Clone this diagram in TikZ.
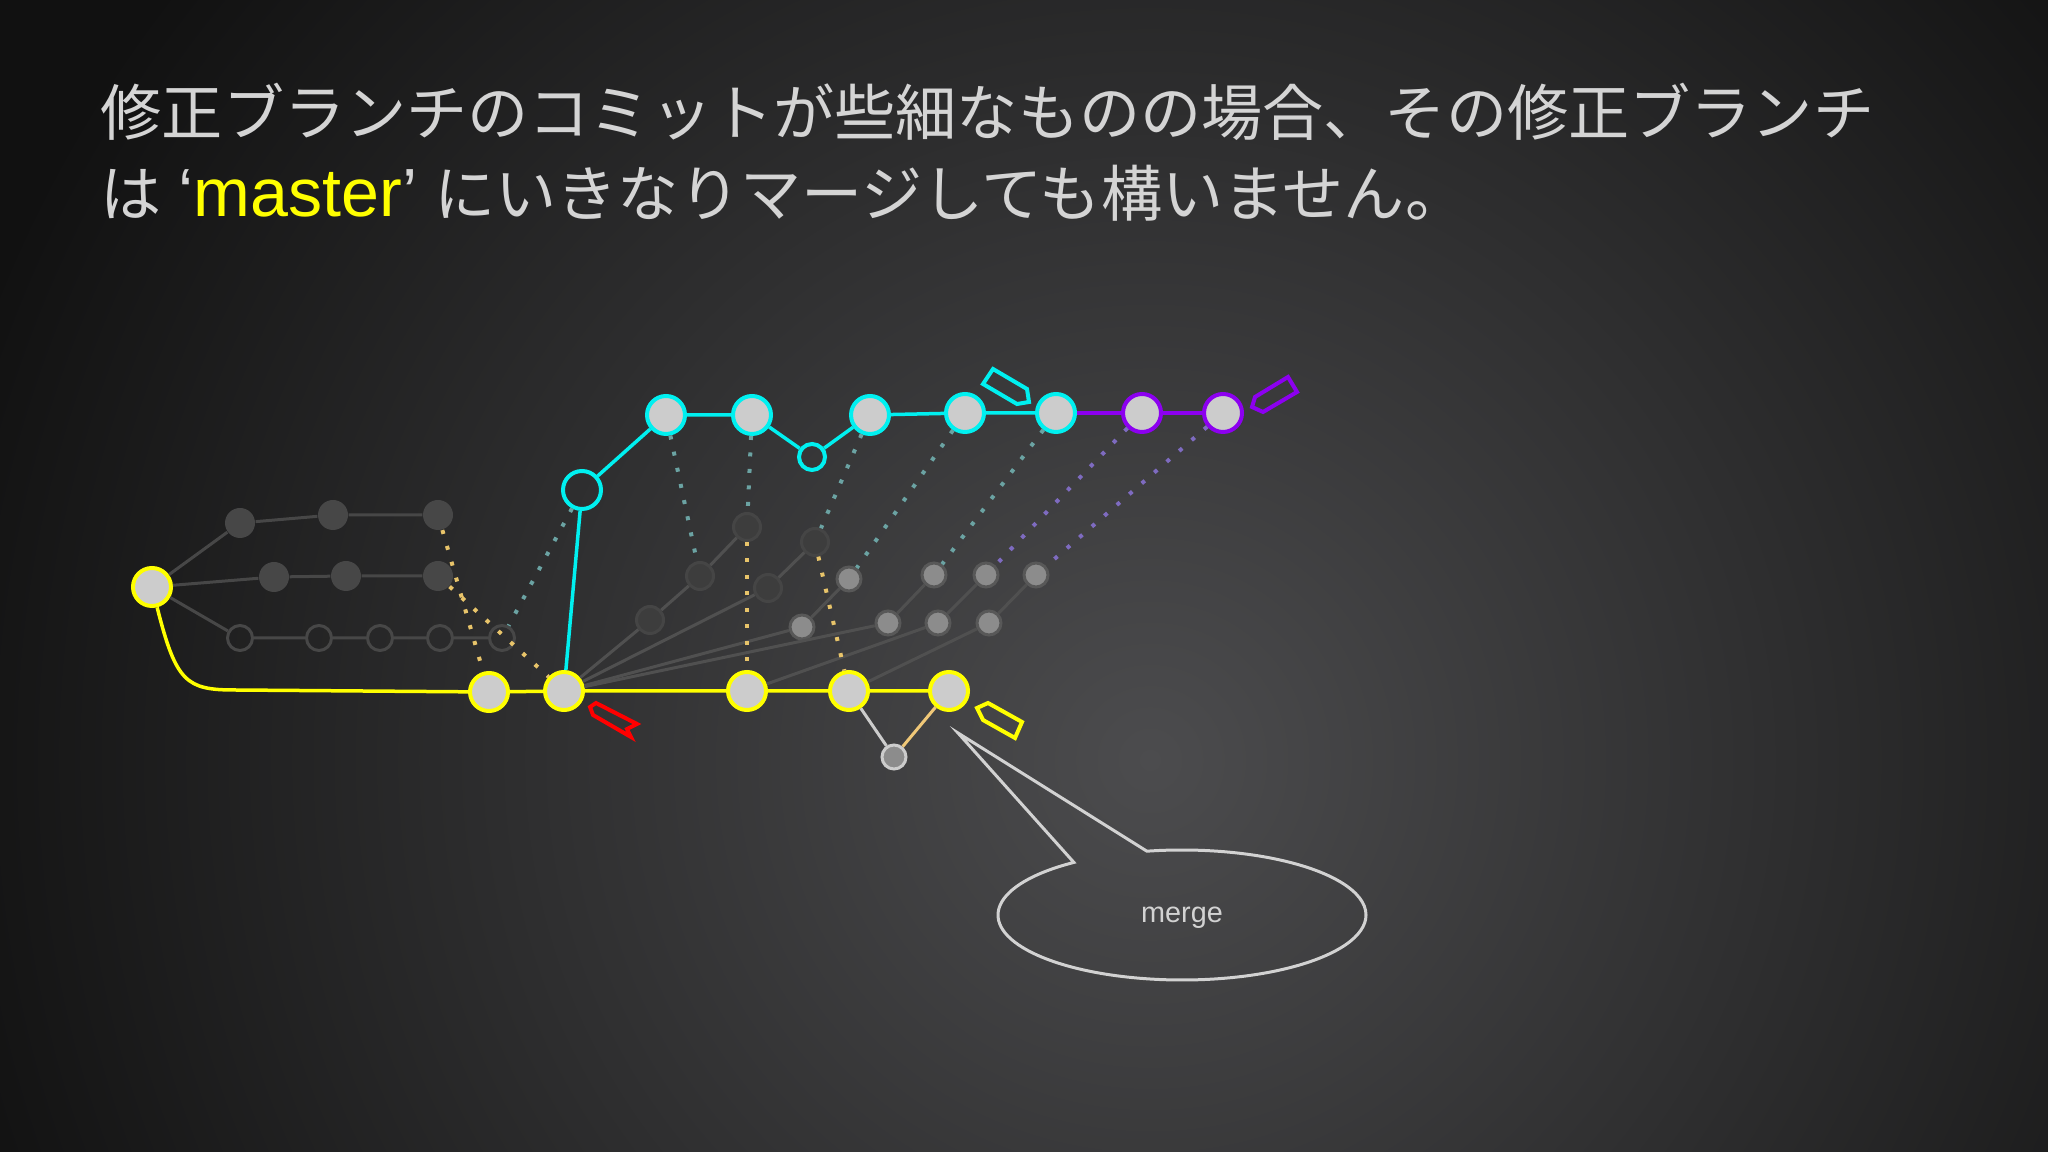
\documentclass[tikz,border=0pt]{standalone}
\usepackage{fontspec}
\setmainfont{Liberation Sans}
\newfontfamily\jpfont{Noto Sans CJK JP}
\usepackage{xcolor}
\usetikzlibrary{shapes.callouts}

\definecolor{bgdark}{HTML}{111111}
\definecolor{bglight}{HTML}{4C4C4E}
\definecolor{txtgray}{HTML}{D4D4D4}
\definecolor{commitfill}{HTML}{CCCCCC}
\definecolor{mastery}{HTML}{FFFF00}
\definecolor{fixcyan}{HTML}{00F0F0}
\definecolor{fixpurple}{HTML}{8C00F0}
\definecolor{ghostdark}{HTML}{474747}
\definecolor{ghostfaint}{HTML}{3D3D3D}
\definecolor{ghostfaintrim}{HTML}{454545}
\definecolor{ghostlight}{HTML}{8C8C8C}
\definecolor{ghostlightrim}{HTML}{585858}
\definecolor{fangray}{HTML}{505050}
\definecolor{dotyellow}{HTML}{E8C46A}
\definecolor{dotcyan}{HTML}{6BA3A3}
\definecolor{dotpurple}{HTML}{7E6BC0}
\definecolor{bubblegray}{HTML}{D2D2D2}
\definecolor{mergeline}{HTML}{F0C878}
\definecolor{tagred}{HTML}{FF0000}

\begin{document}
\begin{tikzpicture}[x=0.1mm, y=-0.1mm,
    commit/.style={circle, inner sep=0pt, minimum size=3.8mm, fill=commitfill, line width=0.4mm},
    mcommit/.style={commit, draw=mastery},
    ccommit/.style={commit, draw=fixcyan},
    pcommit/.style={commit, draw=fixpurple},
    chollow/.style={circle, inner sep=0pt, minimum size=3.8mm, draw=fixcyan, line width=0.4mm},
    ghost/.style={circle, inner sep=0pt, minimum size=3mm, fill=ghostdark},
    ghostring/.style={circle, inner sep=0pt, minimum size=2.5mm, draw=ghostdark, line width=0.3mm},
    faint/.style={circle, inner sep=0pt, minimum size=2.7mm, fill=ghostfaint, draw=ghostfaintrim, line width=0.3mm},
    light/.style={circle, inner sep=0pt, minimum size=2.4mm, fill=ghostlight, draw=ghostlightrim, line width=0.3mm},
    ghostline/.style={draw=ghostdark, line width=0.3mm},
    fanline/.style={draw=fangray, line width=0.3mm},
    mline/.style={draw=mastery, line width=0.35mm},
    cline/.style={draw=fixcyan, line width=0.35mm},
    pline/.style={draw=fixpurple, line width=0.35mm},
    dots/.style={line width=0.4mm, dash pattern=on 0.4mm off 1.25mm},
    tag/.style={line width=0.4mm},
    title/.style={anchor=base west, inner sep=0pt, text=txtgray, font=\fontsize{17.4}{20}\selectfont}]

    % Background
    \useasboundingbox (0,0) rectangle (2048,1152);
    \fill[bgdark] (0,0) rectangle (2048,1152);
    \begin{scope}
        \clip (0,0) rectangle (2048,1152);
        \shade[inner color=bglight, outer color=bgdark] (1150,760) circle[radius=125mm];
    \end{scope}

    % Title
    \node[title] (line1) at (100,136) {\jpfont 修正ブランチのコミットが些細なものの場合、その修正ブランチ};
    \node[title] (line2) at (100,217) {{\jpfont は} {\fontsize{19.4}{20}\selectfont ‘\textcolor{mastery}{master}’} {\jpfont にいきなりマージしても構いません。}};

    % Old branches
    \node[mcommit] (root) at (152,587) {};
    \node[ghost] (t1) at (240,523) {};
    \node[ghost] (t2) at (333,515) {};
    \node[ghost] (t3) at (438,515) {};
    \node[ghost] (m1) at (274,577) {};
    \node[ghost] (m2) at (346,576) {};
    \node[ghost] (m3) at (438,576) {};
    \node[ghostring] (h1) at (240,638) {};
    \node[ghostring] (h2) at (319,638) {};
    \node[ghostring] (h3) at (380,638) {};
    \node[ghostring] (h4) at (440,638) {};
    \node[ghostring] (h5) at (502,638) {};
    \draw[ghostline] (root) -- (t1) -- (t2) -- (t3);
    \draw[ghostline] (root) -- (m1) -- (m2) -- (m3);
    \draw[ghostline] (root) -- (h1) -- (h2) -- (h3) -- (h4) -- (h5);

    % master
    \node[mcommit] (y1) at (489,692) {};
    \node[mcommit] (y2) at (564,691) {};
    \node[mcommit] (y3) at (747,691) {};
    \node[mcommit] (y4) at (849,691) {};
    \node[mcommit] (y5) at (949,691) {};
    \coordinate (bend) at (235,690);
    \draw[mline] (root) .. controls (176,682) and (186,690) .. (bend) -- (y1);
    \draw[mline] (y1) -- (y2) -- (y3) -- (y4) -- (y5);

    % Ghost commits
    \node[faint] (f1) at (650,620) {};
    \node[faint] (f2) at (700,576) {};
    \node[faint] (f3) at (747,527) {};
    \node[faint] (f4) at (768,588) {};
    \node[faint] (f5) at (815,542) {};
    \node[light] (g1) at (802,627) {};
    \node[light] (g2) at (849,579) {};
    \node[light] (g3) at (888,623) {};
    \node[light] (g4) at (934,575) {};
    \node[light] (g5) at (938,623) {};
    \node[light] (g6) at (986,575) {};
    \node[light] (g7) at (989,623) {};
    \node[light] (g8) at (1036,575) {};
    \draw[fanline] (y2) -- (f1) -- (f2) -- (f3);
    \draw[fanline] (y2) -- (f4) -- (f5);
    \draw[fanline] (y2) -- (g1) -- (g2);
    \draw[fanline] (y2) -- (g3) -- (g4);
    \draw[fanline] (y3) -- (g5) -- (g6);
    \draw[fanline] (y4) -- (g7) -- (g8);

    % Fix branch
    \node[chollow] (c0) at (582,490) {};
    \node[ccommit] (c1) at (666,415) {};
    \node[ccommit] (c2) at (752,415) {};
    \node[chollow, minimum size=2.6mm] (ch) at (812,457) {};
    \node[ccommit] (c3) at (870,415) {};
    \node[ccommit] (c4) at (965,413) {};
    \node[ccommit] (c5) at (1056,413) {};
    \node[pcommit] (p1) at (1142,413) {};
    \node[pcommit] (p2) at (1223,413) {};
    \draw[cline] (y2) -- (c0) -- (c1) -- (c2) -- (ch) -- (c3) -- (c4) -- (c5);
    \draw[pline] (c5) -- (p1) -- (p2);

    % Merge commit
    \node[light, fill=ghostlight, draw=commitfill] (s) at (894,757) {};
    \draw[draw=commitfill, line width=0.3mm] (y4) -- (s);
    \draw[draw=mergeline, line width=0.3mm] (s) -- (y5);

    % Dotted links
    \draw[dots, dotyellow] (t3) -- (y1);
    \draw[dots, dotyellow] (m3) -- (y2);
    \draw[dots, dotyellow] (f3) -- (y3);
    \draw[dots, dotyellow] (f5) -- (y4);
    \draw[dots, dotcyan] (c0) -- (h5);
    \draw[dots, dotcyan] (c1) -- (f2);
    \draw[dots, dotcyan] (c2) -- (f3);
    \draw[dots, dotcyan] (c3) -- (f5);
    \draw[dots, dotcyan] (c4) -- (g2);
    \draw[dots, dotcyan] (c5) -- (g4);
    \draw[dots, dotpurple] (p1) -- (g6);
    \draw[dots, dotpurple] (p2) -- (g8);

    % Tags
    \draw[tag, tagred] (590,707) -- (596,703) -- (637,724) -- (627,729) -- (631,737) -- (593,715) -- cycle;
    \draw[tag, mastery] (977,708) -- (988,703) -- (1022,722) -- (1015,738) -- (983,720) -- cycle;
    \draw[tag, fixcyan] (993,369) -- (1027,389) -- (1029,402) -- (1017,404) -- (983,384) -- cycle;
    \draw[tag, fixpurple] (1255,397) -- (1288,377) -- (1297,392) -- (1263,412) -- (1252,407) -- cycle;

    % Callout
    \node[ellipse callout, draw=bubblegray, line width=0.3mm, minimum width=36.8mm, minimum height=13mm,
        callout absolute pointer={(958,733)}, callout pointer arc=25, text=bubblegray, text depth=0pt,
        font=\fontsize{8.2}{9}\selectfont] (bubble) at (1182,915) {merge};
\end{tikzpicture}
\end{document}
